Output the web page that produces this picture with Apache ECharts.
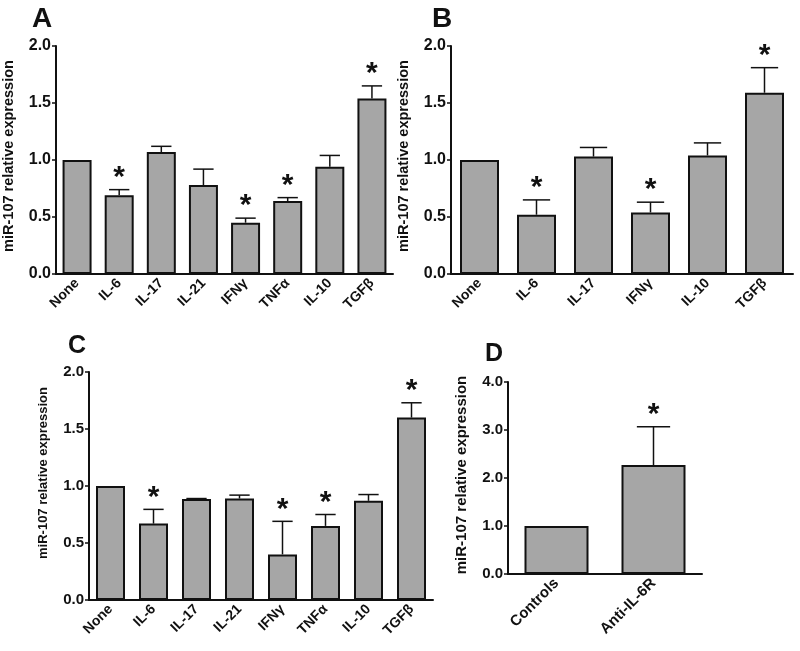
<!DOCTYPE html>
<html>
<head>
<meta charset="utf-8">
<script src="https://cdn.jsdelivr.net/npm/echarts@6/dist/echarts.min.js"></script>
<style>
html,body{margin:0;padding:0;background:#fff;}
#chart{width:800px;height:651px;}
</style>
</head>
<body>
<div id="chart"></div>
<script>
// ---- Data ----
const catsA = ['None','IL-6','IL-17','IL-21','IFNγ','TNFα','IL-10','TGFβ'];
const meanA = [1.00, 0.69, 1.07, 0.78, 0.45, 0.64, 0.94, 1.54];
const upperA = [null, 0.74, 1.12, 0.92, 0.49, 0.67, 1.04, 1.65];
const sigA = [0, 1, 0, 0, 1, 1, 0, 1];

const catsB = ['None','IL-6','IL-17','IFNγ','IL-10','TGFβ'];
const meanB = [1.00, 0.52, 1.03, 0.54, 1.04, 1.59];
const upperB = [null, 0.65, 1.11, 0.63, 1.15, 1.81];
const sigB = [0, 1, 0, 1, 0, 1];

const catsC = ['None','IL-6','IL-17','IL-21','IFNγ','TNFα','IL-10','TGFβ'];
const meanC = [1.00, 0.67, 0.885, 0.89, 0.40, 0.65, 0.87, 1.60];
const upperC = [null, 0.795, 0.89, 0.92, 0.69, 0.75, 0.925, 1.73];
const sigC = [0, 1, 0, 0, 1, 1, 0, 1];

const catsD = ['Controls','Anti-IL-6R'];
const meanD = [1.00, 2.27];
const upperD = [null, 3.07];
const sigD = [0, 1];

const yTicksAB = [0, 2, 0.5];   // min, max, interval
const yTicksD = [0, 4, 1];
const yName = 'miR-107 relative expression';

// ---- Styling ----
const FONT = 'Arial, "Liberation Sans", sans-serif';
const panels = [
  {letter:'A', cats:catsA, mean:meanA, upper:upperA, sig:sigA, ticks:yTicksAB,
   grid:{left:52, top:46, width:341, height:228}, barW:29, capR:0.7,
   tickFs:16, nameFs:14.5, nameGap:40, namePad:[0,0,0,8], catFs:14, lx:32, ly:5, lfs:28},
  {letter:'B', cats:catsB, mean:meanB, upper:upperB, sig:sigB, ticks:yTicksAB,
   grid:{left:451, top:46, width:342, height:228}, barW:39, capR:0.7,
   tickFs:16, nameFs:14.5, nameGap:40, namePad:[0,0,0,8], catFs:14, lx:432, ly:5, lfs:28},
  {letter:'C', cats:catsC, mean:meanC, upper:upperC, sig:sigC, ticks:yTicksAB,
   grid:{left:89, top:372, width:344, height:228}, barW:29, capR:0.7,
   tickFs:15, nameFs:13, nameGap:39, namePad:[0,0,0,26], catFs:14, lx:68, ly:334, lfs:25},
  {letter:'D', cats:catsD, mean:meanD, upper:upperD, sig:sigD, ticks:yTicksD,
   grid:{left:508, top:382, width:194, height:192}, barW:64, capR:0.52,
   tickFs:15, nameFs:15, nameGap:39, namePad:[0,0,0,6], catFs:15, lx:485, ly:342, lfs:25}
];

const grids = [], xAxes = [], yAxes = [], series = [], graphics = [];
panels.forEach((p, i) => {
  grids.push(Object.assign({containLabel:false}, p.grid));
  xAxes.push({
    type:'category', gridIndex:i, data:p.cats,
    axisLine:{lineStyle:{color:'#111', width:2}},
    axisTick:{alignWithLabel:true, length:5, lineStyle:{color:'#111', width:1.5}},
    axisLabel:{rotate:45, margin:7, color:'#111', fontFamily:FONT, fontWeight:'bold', fontSize:p.catFs, interval:0}
  });
  yAxes.push({
    type:'value', gridIndex:i, min:p.ticks[0], max:p.ticks[1], interval:p.ticks[2],
    name:yName, nameLocation:'middle', nameGap:p.nameGap,
    nameTextStyle:{color:'#111', fontFamily:FONT, fontWeight:'bold', fontSize:p.nameFs, padding:p.namePad},
    axisLine:{show:true, lineStyle:{color:'#111', width:2}},
    axisTick:{show:true, length:4, lineStyle:{color:'#111', width:1.5}},
    splitLine:{show:false},
    axisLabel:{margin:5, color:'#111', fontFamily:FONT, fontWeight:'bold', fontSize:p.tickFs,
      formatter: v => v.toFixed(1)}
  });
  series.push({
    type:'bar', xAxisIndex:i, yAxisIndex:i, data:p.mean, barWidth:p.barW,
    itemStyle:{color:'#a6a6a6', borderColor:'#111', borderWidth:2},
    silent:true, animation:false
  });
  const errData = p.cats.map((c, k) => [k, p.mean[k], p.upper[k] == null ? p.mean[k] : p.upper[k], p.sig[k]]);
  series.push({
    type:'custom', xAxisIndex:i, yAxisIndex:i, data:errData, z:5, animation:false, silent:true,
    encode:{x:0, y:[1,2]},
    renderItem:(params, api) => {
      const x = api.value(0), m = api.value(1), u = api.value(2), s = api.value(3);
      const p0 = api.coord([x, m]), p1 = api.coord([x, u]);
      const cw = p.barW * p.capR;
      const children = [];
      if (u > m) {
        children.push({type:'line', shape:{x1:p0[0], y1:p0[1], x2:p1[0], y2:p1[1]}, style:{stroke:'#111', lineWidth:1.5}});
        children.push({type:'line', shape:{x1:p1[0]-cw/2, y1:p1[1], x2:p1[0]+cw/2, y2:p1[1]}, style:{stroke:'#111', lineWidth:1.5}});
      }
      if (s) {
        children.push({type:'text', x:p1[0], y:p1[1]+3, style:{text:'*', fill:'#111', font:'bold 30px ' + FONT, textAlign:'center', textVerticalAlign:'bottom'}});
      }
      return {type:'group', children:children};
    }
  });
  graphics.push({type:'text', left:p.lx, top:p.ly, style:{text:p.letter, fill:'#111', font:'bold ' + p.lfs + 'px ' + FONT}});
});

const chart = echarts.init(document.getElementById('chart'), null, {renderer:'canvas'});
chart.setOption({
  backgroundColor:'#fff',
  animation:false,
  grid:grids, xAxis:xAxes, yAxis:yAxes, series:series, graphic:graphics
});
</script>
</body>
</html>
